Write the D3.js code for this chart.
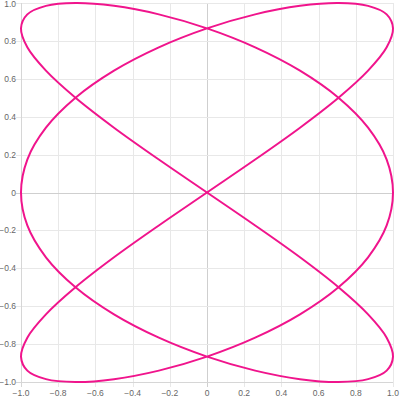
<!DOCTYPE html>
<html><head><meta charset="utf-8">
<script src="https://cdn.jsdelivr.net/npm/d3@7"></script>
<style>body{margin:0;background:#fff}svg{display:block}</style>
</head><body>
<script>
// Curve points (closed loop, in drawing order)
const xs = [0,0.259,0.5,0.707,0.866,0.966,1,0.966,0.866,0.707,0.5,0.259,0,-0.259,-0.5,-0.707,-0.866,-0.966,-1,-0.966,-0.866,-0.707,-0.5,-0.259,
            0,0.259,0.5,0.707,0.866,0.966,1,0.966,0.866,0.707,0.5,0.259,0,-0.259,-0.5,-0.707,-0.866,-0.966,-1,-0.966,-0.866,-0.707,-0.5,-0.259,
            0,0.259,0.5,0.707,0.866,0.966,1,0.966,0.866,0.707,0.5,0.259,0,-0.259,-0.5,-0.707,-0.866,-0.966,-1,-0.966,-0.866,-0.707,-0.5,-0.259];
const ys = [0,0.174,0.342,0.5,0.643,0.766,0.866,0.94,0.985,1,0.985,0.94,0.866,0.766,0.643,0.5,0.342,0.174,
            0,-0.174,-0.342,-0.5,-0.643,-0.766,-0.866,-0.94,-0.985,-1,-0.985,-0.94,-0.866,-0.766,-0.643,-0.5,-0.342,-0.174,
            0,0.174,0.342,0.5,0.643,0.766,0.866,0.94,0.985,1,0.985,0.94,0.866,0.766,0.643,0.5,0.342,0.174,
            0,-0.174,-0.342,-0.5,-0.643,-0.766,-0.866,-0.94,-0.985,-1,-0.985,-0.94,-0.866,-0.766,-0.643,-0.5,-0.342,-0.174];
const xTicks = [-1,-0.8,-0.6,-0.4,-0.2,0,0.2,0.4,0.6,0.8,1];
const yTicks = [-1,-0.8,-0.6,-0.4,-0.2,0,0.2,0.4,0.6,0.8,1];

const W = 400, H = 400;
const pL = 21, pR = 393, pT = 3, pB = 382;
const svg = d3.select("body").append("svg").attr("width", W).attr("height", H);
const x = d3.scaleLinear().domain([-1, 1]).range([pL, pR]);
const y = d3.scaleLinear().domain([-1, 1]).range([pB, pT]);
const fmt = v => v === 0 ? "0" : d3.format(".1f")(v);

const g = svg.append("g");
g.selectAll(".vg").data(xTicks).join("line")
  .attr("x1", d => Math.round(x(d)) + 0.5).attr("x2", d => Math.round(x(d)) + 0.5)
  .attr("y1", pT).attr("y2", pB + 5)
  .attr("stroke", d => d === 0 ? "#cfcfcf" : "#e8e8e8").attr("stroke-width", 1);
g.selectAll(".hg").data(yTicks).join("line")
  .attr("y1", d => Math.round(y(d)) + 0.5).attr("y2", d => Math.round(y(d)) + 0.5)
  .attr("x1", pL - 5).attr("x2", pR)
  .attr("stroke", d => d === 0 ? "#cfcfcf" : "#e8e8e8").attr("stroke-width", 1);
g.append("line").attr("x1", pL + 0.5).attr("x2", pL + 0.5).attr("y1", pT).attr("y2", pB + 5).attr("stroke", "#d6d6d6");
g.append("line").attr("x1", pL - 5).attr("x2", pR).attr("y1", Math.round(pB) + 0.5).attr("y2", Math.round(pB) + 0.5).attr("stroke", "#d6d6d6");

svg.selectAll(".xl").data(xTicks).join("text")
  .attr("x", d => x(d)).attr("y", 396)
  .attr("text-anchor", "middle").attr("font-family", "Helvetica, Arial, sans-serif")
  .attr("font-size", 8.5).attr("fill", "#666").text(fmt);
svg.selectAll(".yl").data(yTicks).join("text")
  .attr("x", 16).attr("y", d => Math.max(y(d) + 3, 7))
  .attr("text-anchor", "end").attr("font-family", "Helvetica, Arial, sans-serif")
  .attr("font-size", 8.5).attr("fill", "#666").text(fmt);

const pts = xs.map((v, i) => [v, ys[i]]);
const line = d3.line().x(d => x(d[0])).y(d => y(d[1])).curve(d3.curveCatmullRomClosed.alpha(0.5));
svg.append("path").attr("d", line(pts)).attr("fill", "none")
  .attr("stroke", "#f0148c").attr("stroke-width", 2);
</script>
</body></html>
